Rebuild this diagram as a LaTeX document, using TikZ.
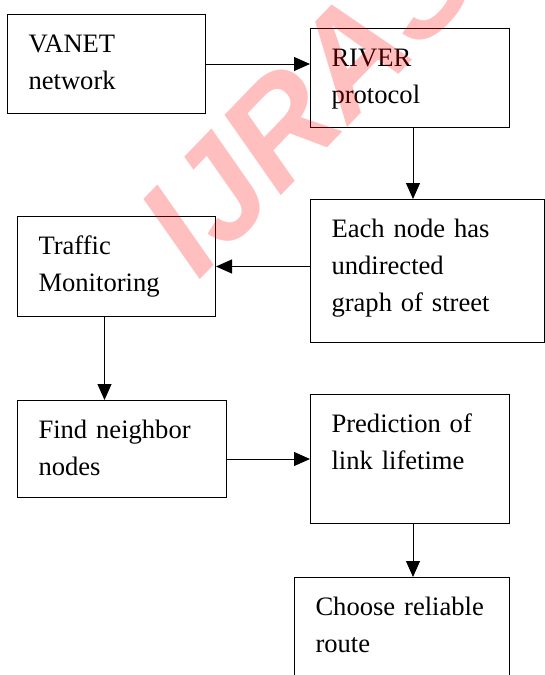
\documentclass[tikz,border=0pt]{standalone}
\usepackage{fontspec}
\setmainfont{Liberation Serif}
\newfontfamily\markfont{Liberation Sans}
\usetikzlibrary{positioning,arrows.meta}

\begin{document}
\begin{tikzpicture}[
    x=1pt, y=1pt,
    stepbox/.style={draw=black, line width=1pt, anchor=north west, align=left,
      inner xsep=21pt, inner ysep=0pt, text height=38pt,
      font=\fontsize{26.6}{37}\selectfont},
    flow/.style={-{Triangle[length=16pt,width=14pt]}, line width=1pt},
    watermark/.style={anchor=base west, inner sep=0pt, rotate=46, text=red,
      text opacity=0.25, font=\markfont\bfseries\itshape\fontsize{140}{140}\selectfont},
  ]
  \useasboundingbox (0,0) rectangle (545,-675);
  \clip (0,0) rectangle (545,-675);
  % boxes
  \node[stepbox, text width=156pt, text depth=61pt] (vanet) at (7,-14) {VANET\\network};
  \node[stepbox, text width=157pt, text depth=61pt] (river) at (310,-28) {RIVER\\protocol};
  \node[stepbox, text width=192pt, text depth=105pt] (graph) at (310,-199) {Each node has\\undirected\\graph of street};
  \node[stepbox, text width=156pt, text depth=62pt] (traffic) at (17,-216) {Traffic\\Monitoring};
  \node[stepbox, text width=167pt, text depth=59pt] (neighbor) at (17,-400) {Find neighbor\\nodes};
  \node[stepbox, text width=157pt, text depth=91pt] (predict) at (310,-394) {Prediction of\\link lifetime};
  \node[stepbox, text width=173pt, text depth=102pt] (route) at (294,-577) {\mbox{Choose reliable}\\route};

  \draw[flow] (vanet.east) -- (vanet.east -| river.west);
  \draw[flow] ([xshift=3pt]river.south) -- ([xshift=3pt]river.south |- graph.north);
  \draw[flow] (graph.west |- traffic.east) -- (traffic.east);
  \draw[flow] ([xshift=-12pt]traffic.south) -- ([xshift=-12pt]traffic.south |- neighbor.north);
  \draw[flow] (neighbor.east |- predict.west) -- (predict.west);
  \draw[flow] ([xshift=3pt]predict.south) -- ([xshift=3pt]predict.south |- route.north);

  \node[watermark] (mark) at (198,-282) {IJRASET};
\end{tikzpicture}
\end{document}
